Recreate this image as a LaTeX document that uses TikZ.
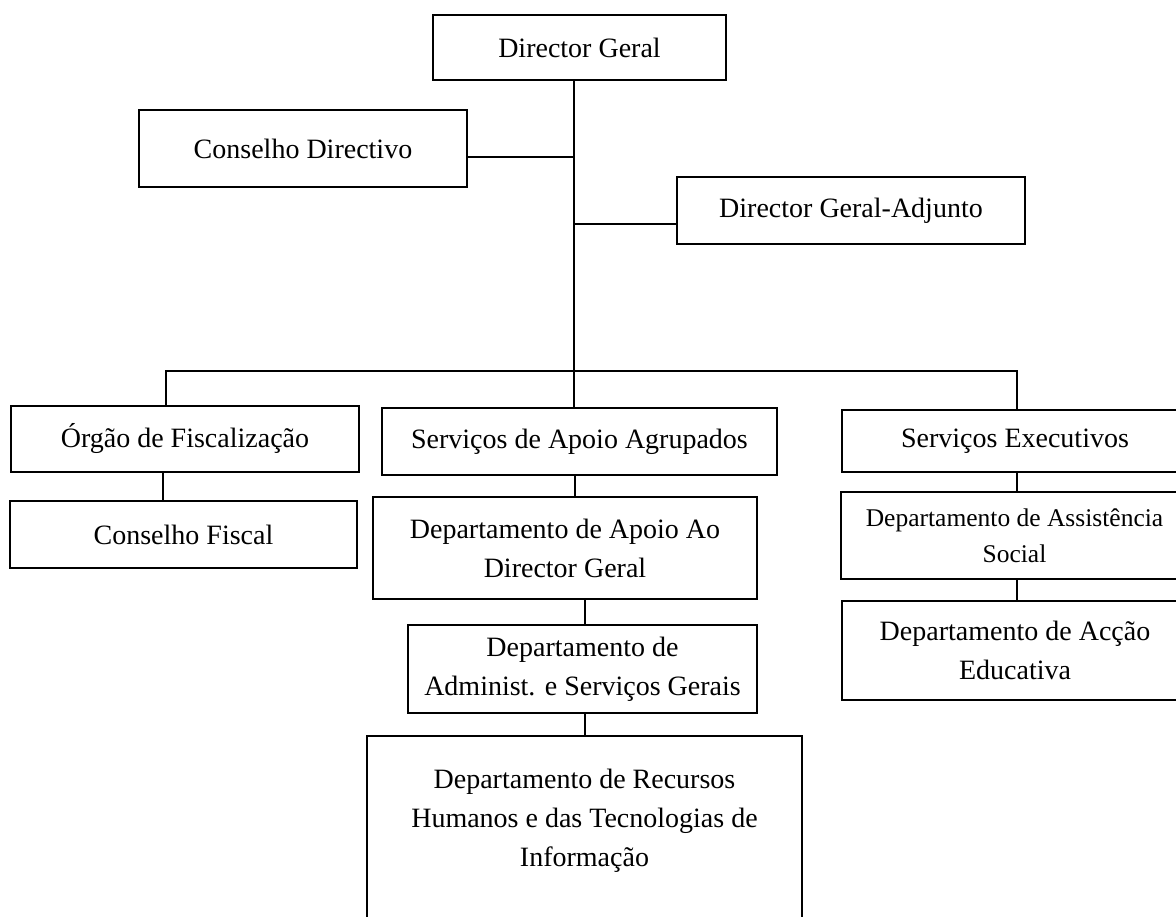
\documentclass[tikz,border=0pt]{standalone}
\usepackage{fontspec}
\setmainfont{Liberation Serif}
\begin{document}
\begin{tikzpicture}[x=1pt,y=-1pt,
  box/.style={draw, line width=1.3pt, rectangle, inner sep=0pt, align=center,
    font=\fontsize{28}{39}\selectfont},
  ln/.style={line width=1.3pt}]
\useasboundingbox (0,0) rectangle (1176,917);
\clip (0,0) rectangle (1176,917);
\fill[white] (0,0) rectangle (1176,917);

\node[box, minimum width=293pt, minimum height=65pt] (dg) at (579.5,47.5) {Director Geral};
\node[box, minimum width=328pt, minimum height=77pt] (cd) at (303,148.5) {Conselho Directivo};
\node[box, minimum width=348pt, minimum height=67pt] (adj) at (851,210.5) {Director Geral-Adjunto};

\node[box, minimum width=348pt, minimum height=66pt] (og) at (185,439) {Órgão de Fiscalização};
\node[box, minimum width=347pt, minimum height=67pt] (cf) at (183.5,534.5) {Conselho Fiscal};
\node[box, minimum width=395pt, minimum height=67pt] (sa) at (579.5,441.5) {Serviços de Apoio Agrupados};
\node[box, minimum width=346pt, minimum height=62pt] (se) at (1015,441) {Serviços Executivos};

\node[box, minimum width=384pt, minimum height=102pt] (aa) at (565,548) {Departamento de Apoio Ao\\Director Geral};
\node[box, minimum width=349pt, minimum height=88pt] (ad) at (582.5,669) {Departamento de\\Administ. e Serviços Gerais};
\node[box, minimum width=435pt, minimum height=242pt] (rh) at (584.5,857) {Departamento de Recursos\\Humanos e das Tecnologias de\\Informação\\\mbox{}\\\mbox{}};

\node[box, minimum width=347pt, minimum height=87pt, font=\fontsize{25.5}{36}\selectfont] (asn) at (1014.5,535.5) {Departamento de Assistência\\Social};
\node[box, minimum width=346pt, minimum height=99pt] (ae) at (1015,650.5) {Departamento de Acção\\Educativa};

\coordinate (vx) at (574,0);
\coordinate (jcd) at (574,157);
\coordinate (jad) at (574,224);
\coordinate (bl) at (166,371);
\coordinate (br) at (1017,371);
\coordinate (xf) at (163,0);
\coordinate (xa) at (575,0);
\coordinate (xd) at (585,0);
\coordinate (xe) at (1017,0);

\draw[ln] (dg.south -| vx) -- (sa.north -| vx);
\draw[ln] (cd.east |- jcd) -- (jcd);
\draw[ln] (jad) -- (adj.west |- jad);
\draw[ln] (og.north -| bl) -- (bl) -- (br) -- (se.north -| br);
\draw[ln] (og.south -| xf) -- (cf.north -| xf);
\draw[ln] (sa.south -| xa) -- (aa.north -| xa);
\draw[ln] (aa.south -| xd) -- (ad.north -| xd);
\draw[ln] (ad.south -| xd) -- (rh.north -| xd);
\draw[ln] (se.south -| xe) -- (asn.north -| xe);
\draw[ln] (asn.south -| xe) -- (ae.north -| xe);
\end{tikzpicture}
\end{document}
